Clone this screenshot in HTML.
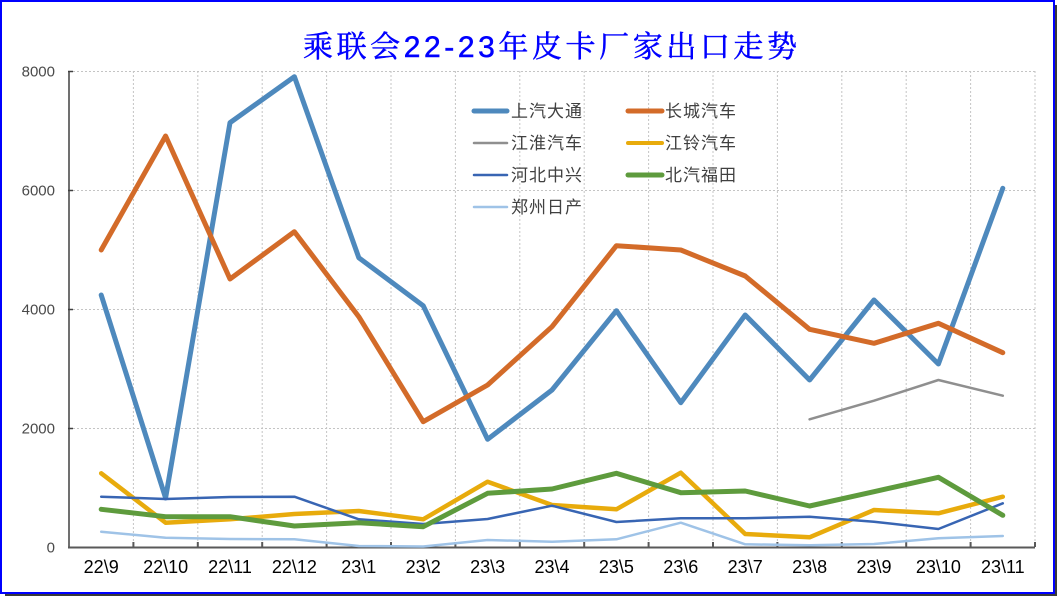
<!DOCTYPE html>
<html><head><meta charset="utf-8"><style>
html,body{margin:0;padding:0;background:#fff;}
svg{display:block;}
</style></head><body>
<svg width="1058" height="597" viewBox="0 0 1058 597" xmlns="http://www.w3.org/2000/svg">
<rect x="0" y="0" width="1058" height="597" fill="#fff"/>
<!-- shadow -->
<rect x="5" y="5" width="1052" height="591" fill="#3a3a3a"/>
<rect x="1" y="1" width="1053" height="592" fill="#fff" stroke="#0000ff" stroke-width="2"/>

<!-- title -->
<text x="550" y="57" text-anchor="middle" textLength="494" lengthAdjust="spacing" font-family="'Liberation Sans','Noto Serif CJK SC',serif" font-size="30" font-weight="normal" fill="#0000ff" stroke="#0000ff" stroke-width="0.5">乘联会22-23年皮卡厂家出口走势</text>

<!-- gridlines -->
<g stroke="#c4c4c4" stroke-width="1" stroke-dasharray="2,2" fill="none">
<line x1="69" y1="71.5" x2="1035" y2="71.5"/>
<line x1="69" y1="190.5" x2="1035" y2="190.5"/>
<line x1="69" y1="309.5" x2="1035" y2="309.5"/>
<line x1="69" y1="428.5" x2="1035" y2="428.5"/>
<line x1="133.4" y1="71" x2="133.4" y2="547"/>
<line x1="197.8" y1="71" x2="197.8" y2="547"/>
<line x1="262.2" y1="71" x2="262.2" y2="547"/>
<line x1="326.6" y1="71" x2="326.6" y2="547"/>
<line x1="391" y1="71" x2="391" y2="547"/>
<line x1="455.4" y1="71" x2="455.4" y2="547"/>
<line x1="519.8" y1="71" x2="519.8" y2="547"/>
<line x1="584.2" y1="71" x2="584.2" y2="547"/>
<line x1="648.6" y1="71" x2="648.6" y2="547"/>
<line x1="713" y1="71" x2="713" y2="547"/>
<line x1="777.4" y1="71" x2="777.4" y2="547"/>
<line x1="841.8" y1="71" x2="841.8" y2="547"/>
<line x1="906.2" y1="71" x2="906.2" y2="547"/>
<line x1="970.6" y1="71" x2="970.6" y2="547"/>
<line x1="1035" y1="71" x2="1035" y2="547"/>
</g>

<!-- axes -->
<g stroke="#404040" stroke-width="1.5" fill="none">
<line x1="69" y1="71" x2="69" y2="548"/>
<line x1="68" y1="71.5" x2="73" y2="71.5"/>
<line x1="68" y1="190.5" x2="73" y2="190.5"/>
<line x1="68" y1="309.5" x2="73" y2="309.5"/>
<line x1="68" y1="428.5" x2="73" y2="428.5"/>
</g>
<g stroke="#595959" stroke-width="2" fill="none">
<line x1="68" y1="547.5" x2="1035" y2="547.5"/>
<line x1="133.4" y1="542" x2="133.4" y2="547"/>
<line x1="197.8" y1="542" x2="197.8" y2="547"/>
<line x1="262.2" y1="542" x2="262.2" y2="547"/>
<line x1="326.6" y1="542" x2="326.6" y2="547"/>
<line x1="391" y1="542" x2="391" y2="547"/>
<line x1="455.4" y1="542" x2="455.4" y2="547"/>
<line x1="519.8" y1="542" x2="519.8" y2="547"/>
<line x1="584.2" y1="542" x2="584.2" y2="547"/>
<line x1="648.6" y1="542" x2="648.6" y2="547"/>
<line x1="713" y1="542" x2="713" y2="547"/>
<line x1="777.4" y1="542" x2="777.4" y2="547"/>
<line x1="841.8" y1="542" x2="841.8" y2="547"/>
<line x1="906.2" y1="542" x2="906.2" y2="547"/>
<line x1="970.6" y1="542" x2="970.6" y2="547"/>
<line x1="1035" y1="542" x2="1035" y2="547"/>
</g>

<!-- y labels -->
<g font-family="'Liberation Sans',sans-serif" font-size="15" fill="#4a4a4a" text-anchor="end">
<text x="55" y="76.5">8000</text>
<text x="55" y="195.5">6000</text>
<text x="55" y="314.5">4000</text>
<text x="55" y="433.5">2000</text>
<text x="55" y="552.5">0</text>
</g>

<!-- x labels -->
<g font-family="'Liberation Sans',sans-serif" font-size="18" fill="#000" text-anchor="middle">
<text x="101.2" y="573">22\9</text>
<text x="165.6" y="573">22\10</text>
<text x="230" y="573">22\11</text>
<text x="294.4" y="573">22\12</text>
<text x="358.8" y="573">23\1</text>
<text x="423.2" y="573">23\2</text>
<text x="487.6" y="573">23\3</text>
<text x="552" y="573">23\4</text>
<text x="616.4" y="573">23\5</text>
<text x="680.8" y="573">23\6</text>
<text x="745.2" y="573">23\7</text>
<text x="809.6" y="573">23\8</text>
<text x="874" y="573">23\9</text>
<text x="938.4" y="573">23\10</text>
<text x="1002.8" y="573">23\11</text>
</g>

<!-- series -->
<g fill="none" stroke-linejoin="round" stroke-linecap="round">
<polyline stroke="#4e89bd" stroke-width="5" points="101.2,295 165.6,498 230,122.7 294.4,76.7 358.8,257.7 423.2,305.7 487.6,439.3 552,390 616.4,310.7 680.8,402.7 745.2,315 809.6,380 874,300 938.4,364 1002.8,188.3"/>
<polyline stroke="#d36b29" stroke-width="5" points="101.2,250 165.6,136 230,279 294.4,231.7 358.8,316.7 423.2,421.7 487.6,385 552,326.7 616.4,245.7 680.8,250 745.2,276 809.6,329.3 874,343.3 938.4,323.3 1002.8,352.7"/>
<polyline stroke="#8f8f8f" stroke-width="2.5" points="809.6,419.3 874,400.7 938.4,380 1002.8,395.7"/>
<polyline stroke="#e8ab0c" stroke-width="4.5" points="101.2,473.3 165.6,522.7 230,519.3 294.4,514 358.8,511 423.2,519.3 487.6,481.7 552,505 616.4,509.3 680.8,472.7 745.2,534 809.6,537.3 874,510 938.4,513.3 1002.8,496.7"/>
<polyline stroke="#3865b3" stroke-width="2.5" points="101.2,496.7 165.6,499 230,497 294.4,496.7 358.8,519.3 423.2,524 487.6,519 552,505.7 616.4,522 680.8,518.3 745.2,518.3 809.6,516.7 874,521.7 938.4,529 1002.8,503.3"/>
<polyline stroke="#5e9b3d" stroke-width="5" points="101.2,509.3 165.6,516.7 230,516.7 294.4,526 358.8,522.7 423.2,526.7 487.6,493.3 552,489 616.4,473.3 680.8,492.7 745.2,491 809.6,506 874,491.7 938.4,477.3 1002.8,515.3"/>
<polyline stroke="#9fc3e7" stroke-width="2.5" points="101.2,531.7 165.6,537.7 230,539 294.4,539.3 358.8,546 423.2,546.5 487.6,540 552,541.7 616.4,539.3 680.8,522.7 745.2,544.3 809.6,545.3 874,544 938.4,538.3 1002.8,536"/>
</g>

<!-- legend -->
<g stroke-linecap="round">
<line x1="474" y1="111" x2="507" y2="111" stroke="#4e89bd" stroke-width="5"/>
<line x1="628" y1="111" x2="662" y2="111" stroke="#d36b29" stroke-width="5"/>
<line x1="474" y1="143" x2="507" y2="143" stroke="#8f8f8f" stroke-width="2.5"/>
<line x1="628" y1="143" x2="662" y2="143" stroke="#e8ab0c" stroke-width="4"/>
<line x1="474" y1="175" x2="507" y2="175" stroke="#3865b3" stroke-width="2.5"/>
<line x1="628" y1="175" x2="662" y2="175" stroke="#5e9b3d" stroke-width="5"/>
<line x1="474" y1="207" x2="507" y2="207" stroke="#9fc3e7" stroke-width="2.5"/>
</g>
<g font-family="'Liberation Sans','Noto Sans CJK SC',sans-serif" font-size="17" fill="#404040" letter-spacing="1">
<text x="511" y="117">上汽大通</text>
<text x="665" y="117">长城汽车</text>
<text x="511" y="149">江淮汽车</text>
<text x="665" y="149">江铃汽车</text>
<text x="511" y="181">河北中兴</text>
<text x="665" y="181">北汽福田</text>
<text x="511" y="213">郑州日产</text>
</g>
</svg>
</body></html>
